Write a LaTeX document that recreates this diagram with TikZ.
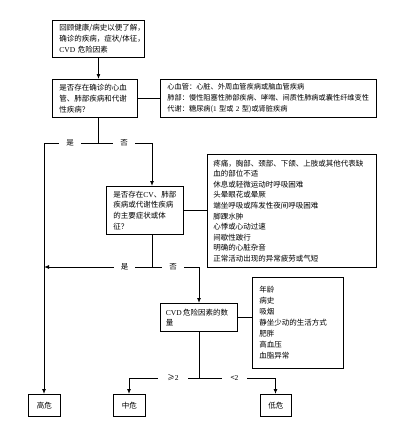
\documentclass[tikz,border=0pt]{standalone}
\usepackage{fontspec}
\setmainfont{Noto Sans CJK SC}
\newfontfamily\latf{Liberation Serif}
\usetikzlibrary{arrows.meta}
\begin{document}
\begin{tikzpicture}[x=1pt,y=-1pt,
  box/.style={draw, line width=0.9pt, anchor=north west, inner xsep=7pt, inner ysep=0pt,
    align=left, font=\fontsize{7.5}{11}\selectfont},
  endbox/.style={draw, line width=0.9pt, anchor=north west, inner sep=0pt,
    minimum height=22pt, align=center, font=\fontsize{7.5}{9}\selectfont},
  conn/.style={line width=0.9pt},
  arr/.style={line width=0.9pt, -{Latex[length=5pt,width=4pt]}},
  lab/.style={fill=white, inner xsep=7pt, inner ysep=1pt, font=\fontsize{7.5}{9}\selectfont}
]
\useasboundingbox[fill=white] (0,0) rectangle (409,444);

% boxes
\node[box, minimum width=92pt, minimum height=37pt, text width=78pt] (b1) at (52,20)
  {回顾健康/病史以便了解，\\确诊的疾病，症状/体征，\\{\latf CVD} 危险因素};
\node[box, minimum width=85pt, minimum height=38pt, text width=71pt] (b2) at (52,79)
  {是否存在确诊的心血\\管、肺部疾病和代谢\\性疾病？};
\node[box, minimum width=216pt, minimum height=38pt, text width=202pt,
  font=\fontsize{7.2}{11}\selectfont] (b3) at (160,79)
  {心血管：心脏、外周血管疾病或脑血管疾病\\
   肺部：慢性阻塞性肺部疾病、哮喘、间质性肺病或囊性纤维变性\\
   代谢：糖尿病({\latf 1} 型或 {\latf 2} 型)或肾脏疾病};
\node[box, minimum width=77pt, minimum height=48pt, text width=63pt,
  font=\fontsize{7.5}{10.7}\selectfont] (b4) at (106,186)
  {是否存在{\latf CV}、肺部\\疾病或代谢性疾病\\的主要症状或体\\征？};
\node[box, minimum width=169pt, minimum height=113pt, text width=157pt, inner xsep=6pt,
  font=\fontsize{7.5}{10.6}\selectfont] (b5) at (207,154)
  {疼痛，胸部、颈部、下颌、上肢或其他代表缺\\
   血的部位不适\\
   休息或轻微运动时呼吸困难\\
   头晕眼花或晕厥\\
   端坐呼吸或阵发性夜间呼吸困难\\
   脚踝水肿\\
   心悸或心动过速\\
   间歇性跛行\\
   明确的心脏杂音\\
   正常活动出现的异常疲劳或气短};
\node[box, minimum width=77pt, minimum height=28pt, text width=66pt, inner xsep=5.5pt,
  font=\fontsize{7.5}{10}\selectfont] (b6) at (160,303)
  {\mbox{{\latf CVD}\,危险因素的数}\\量};
\node[box, minimum width=91pt, minimum height=91pt, text width=77pt,
  font=\fontsize{7.5}{11}\selectfont] (b7) at (252,277)
  {年龄\\病史\\吸烟\\静坐少动的生活方式\\肥胖\\高血压\\血脂异常};
\node[endbox, minimum width=32pt] (high) at (28,394) {高危};
\node[endbox, minimum width=32pt] (mid) at (113,394) {中危};
\node[endbox, minimum width=31pt] (low) at (260,394) {低危};

% junction coordinates
\coordinate (yL) at (44,143);
\coordinate (yR) at (152,143);
\coordinate (y2L) at (44,267);
\coordinate (y2R) at (199,267);
\coordinate (y3L) at (129,378);
\coordinate (y3R) at (275.5,378);

% connectors
\draw[arr] (b1.south) -- (b1.south |- b2.north);
\draw[conn] (b2.east) -- (b2.east -| b3.west);
\draw[conn] (b1.south |- b2.south) -- (b1.south |- yL);
\draw[conn] (yL) -- (yR);
\draw[arr] (yR) -- (yR |- b4.north);
\draw[arr] (yL) -- (yL |- high.north);
\draw[conn] (b4.east) -- (b4.east -| b5.west);
\draw[conn] (yR |- b4.south) -- (yR |- y2R);
\draw[arr] (y2R) -- (y2L);
\draw[arr] (y2R) -- (y2R |- b6.north);
\draw[conn] (b6.east) -- (b6.east -| b7.west);
\draw[conn] (y2R |- b6.south) -- (y2R |- y3L);
\draw[conn] (y3L) -- (y3R);
\draw[arr] (y3L) -- (y3L |- mid.north);
\draw[arr] (y3R) -- (y3R |- low.north);

% branch labels
\node[lab] (l1) at (70,143) {是};
\node[lab] (l2) at (124,143) {否};
\node[lab] (l3) at (124.5,267) {是};
\node[lab] (l4) at (173,267) {否};
\node[lab, inner xsep=9pt] (l5) at (173,378) {≥{\latf 2}};
\node[lab, inner xsep=9pt] (l6) at (234.5,378) {<{\latf 2}};
\end{tikzpicture}
\end{document}
